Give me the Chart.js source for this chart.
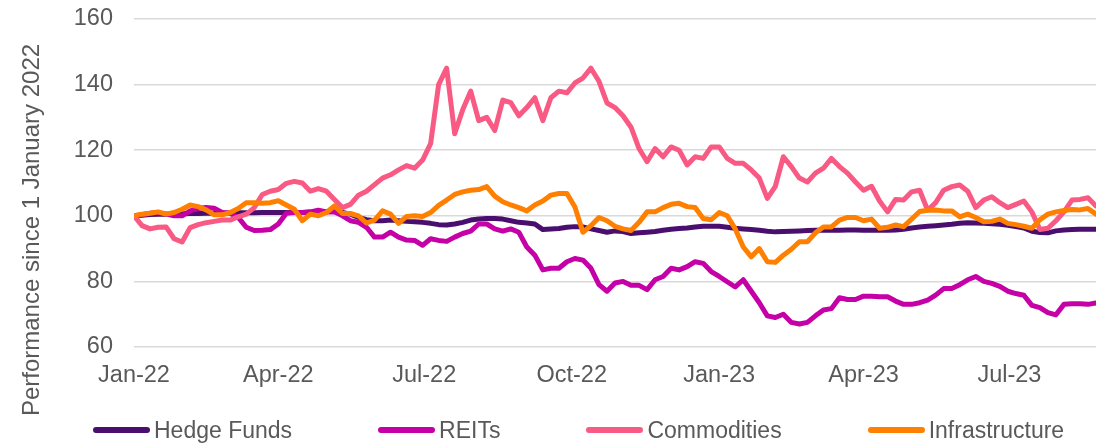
<!DOCTYPE html>
<html>
<head>
<meta charset="utf-8">
<script src="https://cdn.jsdelivr.net/npm/chart.js@4.4.1/dist/chart.umd.min.js"></script>
<style>
  html, body { margin: 0; padding: 0; background: #ffffff; }
  #wrap { position: relative; width: 1096px; height: 444px; overflow: hidden; }
  #legend {
    position: absolute; left: 93px; top: 416px; height: 28px;
    display: flex; align-items: center; gap: 86px;
    font-family: "Liberation Sans", Arial, sans-serif; font-size: 23px; color: #595959;
    white-space: nowrap;
  }
  .item { display: flex; align-items: center; }
  .sw { width: 57px; height: 6px; border-radius: 3px; margin-right: 4px; }
</style>
</head>
<body>
<div id="wrap">
  <canvas id="c" width="1096" height="444"></canvas>
  <div id="legend"></div>
</div>
<script>
// Days since 1 Jan 2022, one observation every 5 days (to ~25 Aug 2023)
const days = Array.from({length: 121}, (_, i) => i * 5);

const tickDays = [0, 90, 181, 273, 365, 455, 546];
const tickLabels = ['Jan-22', 'Apr-22', 'Jul-22', 'Oct-22', 'Jan-23', 'Apr-23', 'Jul-23'];

const seriesNames = ['Hedge Funds', 'REITs', 'Commodities', 'Infrastructure'];

const hedgeFunds = [
  100, 100.2, 100.4, 100.5, 100.5, 100.6, 100.6, 100.7, 100.7, 100.8,
  100.8, 100.8, 100.9, 100.9, 100.9, 100.9, 101, 101, 101, 101,
  101, 101, 101.1, 101.2, 101.2, 101.2, 101, 100.5, 99.5, 98.8,
  98.5, 98.5, 98.7, 98.5, 98.3, 98.2, 98, 97.7, 97.3, 97.2,
  97.5, 98, 98.7, 99, 99.2, 99.2, 99, 98.5, 98, 97.8,
  97.5, 95.8, 96, 96.1, 96.5, 96.7, 96.6, 96, 95.5, 95,
  95.4, 95.2, 94.6, 94.8, 95, 95.2, 95.6, 95.9, 96.1, 96.3,
  96.6, 96.8, 96.8, 96.8, 96.5, 96.2, 96, 95.8, 95.6, 95.3,
  95.1, 95.2, 95.3, 95.4, 95.5, 95.6, 95.6, 95.6, 95.6, 95.7,
  95.7, 95.6, 95.6, 95.6, 95.6, 95.7, 95.9, 96.3, 96.6, 96.8,
  97, 97.2, 97.4, 97.7, 97.9, 97.8, 97.7, 97.6, 97.4, 97.1,
  96.7, 96.3, 95.3, 94.9, 94.8, 95.4, 95.7, 95.8, 95.9, 95.9,
  95.9
];

const reits = [
  100, 100.3, 100.8, 101, 100.5, 100, 100, 101.5, 102.2, 102.5,
  102.3, 101, 100.8, 99.5, 96.5, 95.5, 95.6, 95.8, 97.5, 100.8,
  101, 101, 101.2, 101.7, 101.2, 101.2, 100, 98.5, 98, 96.5,
  93.5, 93.5, 95, 93.5, 92.6, 92.5, 91, 93, 92.5, 92.2,
  93.5, 94.6, 95.3, 97.5, 97.5, 96, 95.3, 96, 95, 90.5,
  88, 83.5, 84, 84, 86, 87, 86.5, 84, 79, 77,
  79.5, 80, 78.8, 78.8, 77.5, 80.5, 81.5, 84, 83.5, 84.5,
  86, 85.5, 83, 81.5, 79.9, 78.3, 80.5, 77, 73.5, 69.5,
  69, 70, 67.5, 67, 67.5, 69.5, 71.3, 71.7, 75, 74.5,
  74.5, 75.5, 75.5, 75.3, 75.3, 74, 73, 73, 73.5, 74.3,
  75.8, 77.8, 77.8, 79, 80.5, 81.5, 80, 79.4, 78.5, 77,
  76.3, 75.8, 72.7, 72, 70.5, 69.8, 73, 73.2, 73.2, 73,
  73.4
];

const commodities = [
  100, 97, 96, 96.5, 96.6, 93, 92, 96.4, 97.3, 97.9,
  98.3, 98.7, 98.7, 99.7, 100.5, 102.5, 106.5, 107.5, 108, 109.9,
  110.5, 110, 107.5, 108.3, 107.5, 105, 102.5, 103.5, 106.3, 107.5,
  109.5, 111.5, 112.5, 114, 115.3, 114.5, 117, 122, 140, 145,
  125, 132.3, 138, 129, 130, 126, 135.3, 134.5, 130.5, 133,
  136, 129, 136, 138, 137.5, 140.5, 142, 145, 141, 134.4,
  133, 130.5, 127, 120.5, 116.5, 120.5, 118, 121, 120, 115.5,
  118, 117.5, 121, 121, 117.5, 116, 116, 114, 111.5, 105.3,
  109, 118, 115, 111.5, 110.3, 113, 114.5, 117.5, 115, 113,
  110.3, 107.8, 109, 104.5, 101.2, 105, 104.8, 107.3, 107.8, 101.7,
  104, 107.8, 108.9, 109.4, 107.5, 102.5, 104.8, 105.8, 104, 102.5,
  103.5, 104.5, 101.2, 95.8, 96.2, 98.5, 101.2, 104.8, 105, 105.5,
  103
];

const infrastructure = [
  100, 100.5, 100.8, 101.2, 100.5, 101, 102, 103.3, 102.8, 101.8,
  100.3, 100.3, 101, 102.2, 104, 104, 103.8, 104, 104.6, 103.3,
  102, 98.5, 100.5, 100, 101, 103, 100.7, 100.7, 100, 97.8,
  98.7, 101.5, 100.5, 97.7, 99.8, 100, 99.8, 101, 103.2, 104.8,
  106.5, 107.3, 107.8, 108, 108.9, 106, 104.3, 103.3, 102.5, 101.5,
  103.3, 104.5, 106.3, 106.8, 106.8, 102.7, 95, 97, 99.5, 98.5,
  96.8, 96, 95.5, 98, 101.2, 101.2, 102.5, 103.5, 103.8, 102.8,
  102.5, 99.2, 98.8, 101, 100, 96, 90.5, 87.5, 90, 86,
  85.8, 88, 89.8, 92.1, 92.1, 94.8, 96.6, 96.6, 98.7, 99.5,
  99.5, 98.5, 99, 96.2, 96.5, 97.2, 96.7, 99, 101.3, 101.7,
  101.8, 101.5, 101.5, 99.7, 100.5, 99.5, 98.2, 98.3, 99, 97.7,
  97.3, 96.8, 96.2, 98.8, 100.5, 101.2, 101.6, 101.9, 101.8, 102.2,
  100.5
];

const yTitle = 'Performance since 1 January 2022';

const textColor = '#595959';
const fontFamily = '"Liberation Sans", Arial, sans-serif';
const colors = ['#4a0f6e', '#c400a6', '#f95a84', '#ff8000'];

function makeSet(label, data, color, order) {
  return {
    label, data,
    borderColor: color, backgroundColor: color,
    borderWidth: 5, pointRadius: 0, tension: 0,
    borderJoinStyle: 'round', borderCapStyle: 'round',
    order
  };
}

// HTML legend built from the chart's datasets
const htmlLegendPlugin = {
  id: 'htmlLegend',
  afterUpdate(chart) {
    const box = document.getElementById('legend');
    box.innerHTML = '';
    chart.data.datasets.forEach(ds => {
      const item = document.createElement('div');
      item.className = 'item';
      const sw = document.createElement('span');
      sw.className = 'sw';
      sw.style.background = ds.borderColor;
      const tx = document.createElement('span');
      tx.textContent = ds.label;
      item.appendChild(sw);
      item.appendChild(tx);
      box.appendChild(item);
    });
  }
};

// Y-axis title, centred as in the original (on the full height)
const yTitlePlugin = {
  id: 'yTitle',
  afterDraw(chart) {
    const ctx = chart.ctx;
    ctx.save();
    ctx.translate(32, 230);
    ctx.rotate(-Math.PI / 2);
    ctx.fillStyle = textColor;
    ctx.font = '24px ' + fontFamily;
    ctx.textAlign = 'center';
    ctx.textBaseline = 'middle';
    ctx.fillText(yTitle, 0, 0);
    ctx.restore();
  }
};

new Chart(document.getElementById('c'), {
  type: 'line',
  data: {
    labels: days,
    datasets: [
      makeSet(seriesNames[0], hedgeFunds, colors[0], 4),
      makeSet(seriesNames[1], reits, colors[1], 3),
      makeSet(seriesNames[2], commodities, colors[2], 2),
      makeSet(seriesNames[3], infrastructure, colors[3], 1)
    ]
  },
  options: {
    responsive: false,
    animation: false,
    devicePixelRatio: 1,
    layout: { padding: { top: 19, right: 0, bottom: 47, left: 0 } },
    plugins: {
      tooltip: { enabled: false },
      legend: { display: false }
    },
    scales: {
      x: {
        type: 'linear',
        min: 0, max: 600,
        afterBuildTicks: (scale) => { scale.ticks = tickDays.map(v => ({ value: v })); },
        afterFit: (scale) => { scale.height = 50; scale.paddingLeft = 0; scale.paddingRight = 0; },
        grid: { display: false, drawTicks: false },
        border: { display: false },
        ticks: {
          autoSkip: false, maxRotation: 0, minRotation: 0,
          padding: 14,
          color: textColor,
          font: { family: fontFamily, size: 23.5 },
          callback: (v) => { const k = tickDays.indexOf(v); return k >= 0 ? tickLabels[k] : ''; }
        }
      },
      y: {
        min: 60, max: 160,
        afterFit: (scale) => { scale.width = 134; scale.paddingTop = 0; scale.paddingBottom = 0; },
        grid: { color: '#d9d9d9', lineWidth: 1.5, drawTicks: false },
        border: { display: false },
        ticks: {
          stepSize: 20,
          padding: 21,
          color: textColor,
          font: { family: fontFamily, size: 23.5 }
        }
      }
    }
  },
  plugins: [htmlLegendPlugin, yTitlePlugin]
});
</script>
</body>
</html>
